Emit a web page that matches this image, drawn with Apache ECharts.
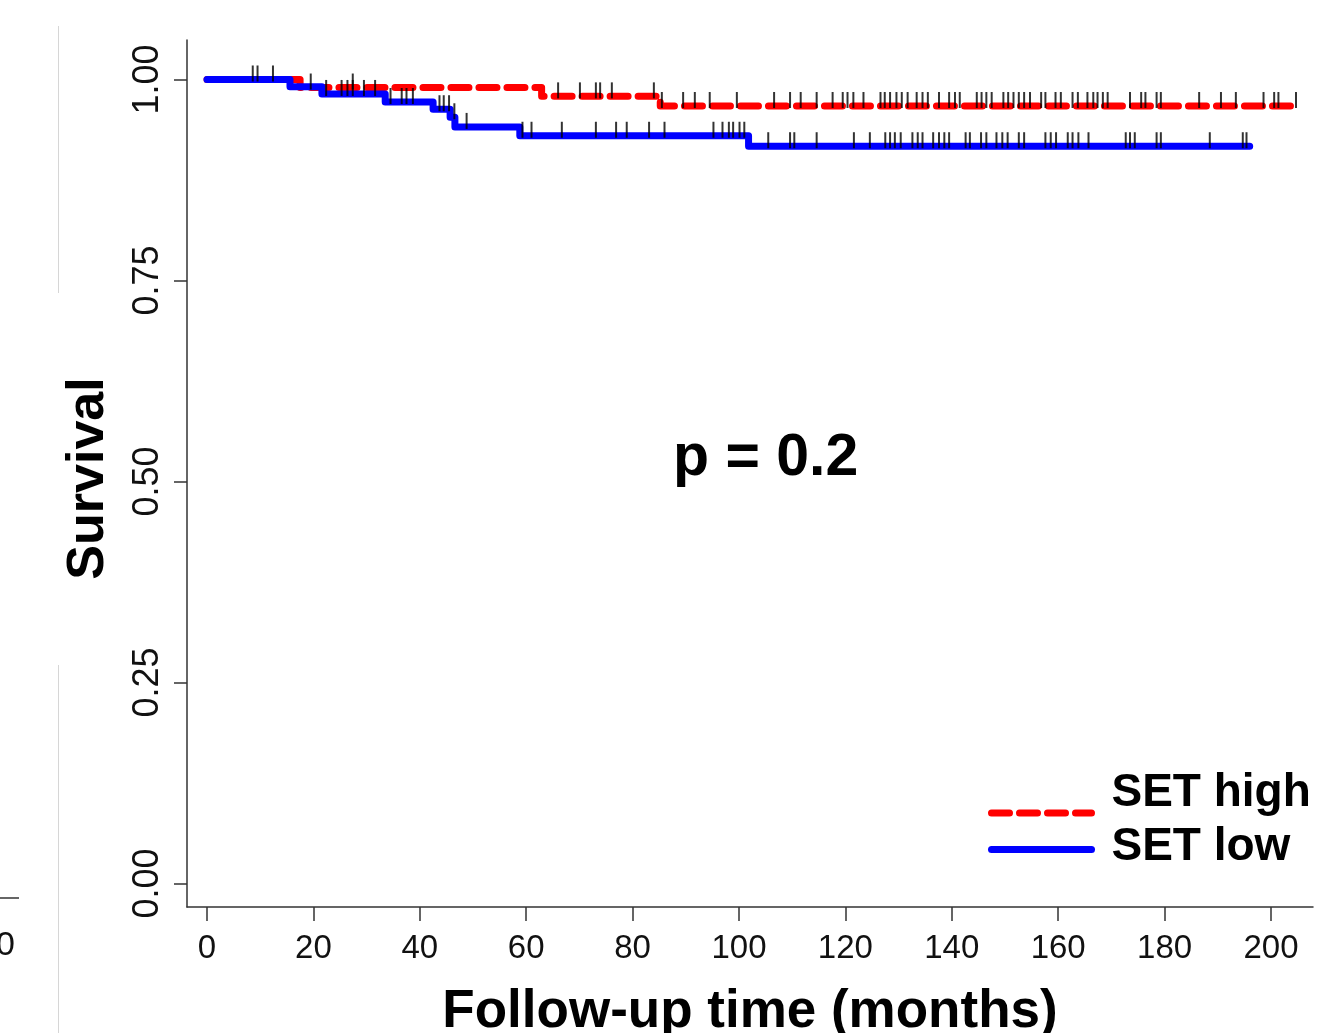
<!DOCTYPE html>
<html>
<head>
<meta charset="utf-8">
<script src="https://cdn.jsdelivr.net/npm/echarts@6/dist/echarts.min.js"></script>
<style>
  html, body { margin: 0; padding: 0; background: #ffffff; }
  #chart { width: 1321px; height: 1033px; }
</style>
</head>
<body>
<div id="chart"></div>
<script>
// ---- data ----
// Kaplan-Meier step functions: event times (months) and survival after each step
const highTimes = [0, 17.5, 62.9, 85.2, 205];
const highSurv  = [1, 0.990, 0.979, 0.967, 0.967];
const lowTimes  = [0, 15.6, 21.6, 33.5, 42.5, 45.7, 46.6, 58.8, 101.8, 196];
const lowSurv   = [1, 0.991, 0.982, 0.972, 0.963, 0.953, 0.941, 0.930, 0.917, 0.917];

// censoring times (months)
const highCensor = [19.5, 27.4, 66.0, 70.1, 73.1, 73.9, 76.1, 84.0, 85.5, 89.5, 91.7, 94.5, 99.6,
  106.6, 109.6, 111.6, 114.6, 117.6, 119.5, 120.4, 121.5, 123.4, 126.6, 127.4, 128.4, 129.6,
  130.6, 131.7, 133.4, 134.5, 135.5, 137.6, 139.5, 140.6, 141.5, 144.7, 145.6, 146.5, 147.5,
  149.7, 150.6, 151.6, 152.6, 153.6, 154.7, 156.8, 157.6, 159.5, 160.5, 162.7, 163.7, 165.5,
  166.6, 167.4, 168.4, 169.3, 173.5, 175.6, 176.4, 178.5, 179.3, 186.5, 190.6, 193.4, 198.6,
  200.6, 201.4, 204.7];
const lowCensor = [8.6, 9.5, 12.4, 22.4, 25.3, 26.4, 27.4, 29.5, 31.6, 34.5, 36.6, 37.5, 38.7,
  43.7, 44.5, 45.5, 46.5, 48.8, 59.3, 61.0, 66.7, 73.1, 76.9, 78.9, 83.1, 86.0, 95.2, 96.9,
  98.1, 98.9, 100.1, 101.0, 105.5, 109.6, 110.4, 114.6, 121.6, 124.6, 127.5, 128.4, 129.3,
  130.4, 132.6, 133.6, 134.5, 136.5, 137.6, 138.6, 139.5, 142.6, 143.4, 145.5, 146.5, 148.4,
  149.5, 150.5, 152.6, 153.6, 157.6, 158.6, 159.6, 161.8, 162.7, 163.8, 165.7, 172.7, 173.5,
  174.4, 178.5, 179.3, 188.5, 194.7, 195.4];

const groupNames = ['SET high', 'SET low'];
const xTicks = [0, 20, 40, 60, 80, 100, 120, 140, 160, 180, 200];
const yTicks = [0, 0.25, 0.5, 0.75, 1];
const pText = 'p = 0.2';
const xTitle = 'Follow-up time (months)';
const yTitle = 'Survival';

// ---- helpers ----
function stepPath(times, surv) {
  const pts = [[times[0], surv[0]]];
  for (let i = 1; i < times.length; i++) {
    pts.push([times[i], surv[i - 1]]);
    pts.push([times[i], surv[i]]);
  }
  return pts;
}
function survAt(times, surv, t) {
  let s = surv[0];
  for (let i = 0; i < times.length; i++) { if (times[i] <= t) s = surv[i]; }
  return s;
}

const FONT = "'Liberation Sans', Arial, Helvetica, sans-serif";
const RED = '#ff0000', BLUE = '#0000ff';
const DASH = [18, 10];

function legendText(gap) {
  return {
    rich: {
      t: { fontSize: 46, fontWeight: 'bold', color: '#000', fontFamily: FONT, lineHeight: 50, padding: [0, 0, 0, 15] },
      g: { fontSize: 8, lineHeight: gap }
    }
  };
}

const chart = echarts.init(document.getElementById('chart'), null, { renderer: 'canvas' });

chart.setOption({
  backgroundColor: '#ffffff',
  animation: false,
  textStyle: { fontFamily: FONT },
  grid: { left: 187, right: 8, top: 40, bottom: 126, containLabel: false, outerBoundsMode: 'none' },
  title: {
    text: pText, left: 673, top: 429, padding: 0,
    textStyle: { fontSize: 59, fontWeight: 'bold', color: '#000', fontFamily: FONT }
  },
  legend: [
    {
      data: [groupNames[0]], left: 988, top: 770, padding: 0,
      itemWidth: 100, itemHeight: 14, selectedMode: false,
      itemStyle: { opacity: 0 },
      lineStyle: { width: 7, type: DASH, cap: 'round' },
      formatter: n => '{t|' + n + '}\n{g| }',
      textStyle: legendText(40)
    },
    {
      data: [groupNames[1]], left: 988, top: 824, padding: 0,
      itemWidth: 100, itemHeight: 14, selectedMode: false,
      itemStyle: { opacity: 0 },
      lineStyle: { width: 7, cap: 'round' },
      formatter: n => '{t|' + n + '}\n{g| }',
      textStyle: legendText(5)
    }
  ],
  xAxis: {
    type: 'value', min: -3.759, max: 207.9,
    name: xTitle, nameLocation: 'middle', nameGap: 79,
    nameTextStyle: { fontSize: 53, fontWeight: 'bold', color: '#000', fontFamily: FONT },
    axisLine: { show: true, onZero: false, lineStyle: { color: '#333', width: 1.5 } },
    axisTick: { show: true, length: 14, customValues: xTicks, lineStyle: { color: '#333', width: 1.5 } },
    axisLabel: { customValues: xTicks, fontSize: 33, color: '#111', margin: 25, fontFamily: FONT },
    splitLine: { show: false }
  },
  yAxis: {
    type: 'value', min: -0.0292, max: 1.0491,
    name: yTitle, nameLocation: 'middle', nameGap: 72, nameRotate: 90,
    nameTextStyle: { fontSize: 52, fontWeight: 'bold', color: '#000', fontFamily: FONT, padding: [0, 10, 0, 0] },
    axisLine: { show: true, onZero: false, lineStyle: { color: '#333', width: 1.5 } },
    axisTick: { show: true, length: 13, customValues: yTicks, lineStyle: { color: '#333', width: 1.5 } },
    axisLabel: { customValues: yTicks, rotate: 90, fontSize: 36, color: '#111', margin: 21,
      fontFamily: FONT, formatter: v => v.toFixed(2) },
    splitLine: { show: false }
  },
  graphic: [
    // edge of the neighbouring (cropped) panel
    { type: 'line', silent: true, shape: { x1: 58.5, y1: 26, x2: 58.5, y2: 293 }, style: { stroke: '#d6d6d6', lineWidth: 1 } },
    { type: 'line', silent: true, shape: { x1: 58.5, y1: 665, x2: 58.5, y2: 1033 }, style: { stroke: '#d6d6d6', lineWidth: 1 } },
    { type: 'line', silent: true, shape: { x1: 0, y1: 898, x2: 19, y2: 898 }, style: { stroke: '#333', lineWidth: 1.5 } },
    { type: 'text', silent: true, left: -4, top: 929, style: { text: '0', fontSize: 34, fill: '#111', fontFamily: FONT } }
  ],
  series: [
    {
      name: groupNames[0], type: 'line', data: stepPath(highTimes, highSurv),
      symbol: 'none', color: RED,
      lineStyle: { color: RED, width: 7, type: DASH, cap: 'round', join: 'round' },
      z: 2, silent: true
    },
    {
      name: groupNames[1], type: 'line', data: stepPath(lowTimes, lowSurv),
      symbol: 'none', color: BLUE,
      lineStyle: { color: BLUE, width: 7, cap: 'round', join: 'round' },
      z: 3, silent: true
    },
    {
      type: 'scatter', data: highCensor.map(t => [t, survAt(highTimes, highSurv, t)]),
      symbol: 'rect', symbolSize: [2, 16], symbolOffset: [0, -6],
      itemStyle: { color: '#000' }, z: 4, silent: true
    },
    {
      type: 'scatter', data: lowCensor.map(t => [t, survAt(lowTimes, lowSurv, t)]),
      symbol: 'rect', symbolSize: [2, 16], symbolOffset: [0, -6],
      itemStyle: { color: '#000' }, z: 4, silent: true
    }
  ]
});
</script>
</body>
</html>
